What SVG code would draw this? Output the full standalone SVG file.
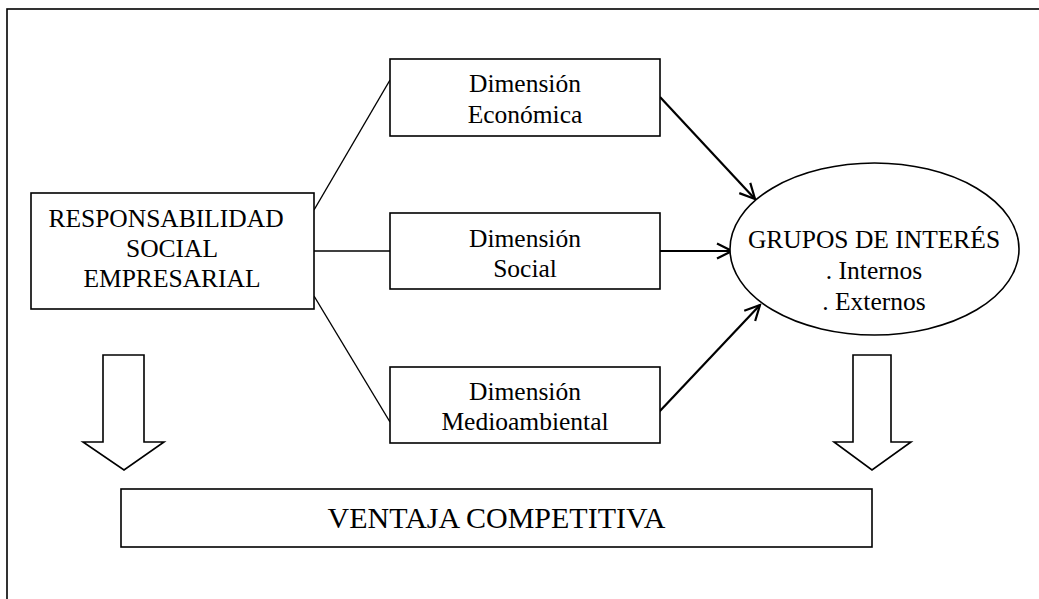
<svg xmlns="http://www.w3.org/2000/svg" width="1039" height="599" viewBox="0 0 1039 599">
<style>
.box{fill:#fff;stroke:#000;stroke-width:1.6}
.t{font-family:"Liberation Serif","Times New Roman",serif;fill:#000;text-anchor:middle}
.s26{font-size:25.5px}
.s30{font-size:30px}
.ln{stroke:#000;stroke-width:1.4;fill:none}
.ar{stroke:#000;stroke-width:2.2;fill:none}
</style>
<defs>
<marker id="v" viewBox="0 0 18 18" refX="16" refY="9" markerWidth="18" markerHeight="18" markerUnits="userSpaceOnUse" orient="auto">
<path d="M1,1.5 L16,9 L1,16.5" fill="none" stroke="#000" stroke-width="2.2"/>
</marker>
</defs>
<rect x="0" y="0" width="1039" height="599" fill="#fff"/>
<rect id="frame" x="7" y="9" width="1045" height="600" fill="none" stroke="#000" stroke-width="1.6"/>
<g id="connectors">
<line class="ln" x1="314" y1="210" x2="390" y2="80"/>
<line class="ln" x1="314" y1="251" x2="390" y2="251"/>
<line class="ln" x1="314" y1="296" x2="390" y2="422"/>
<line class="ar" x1="660" y1="97" x2="755" y2="199" marker-end="url(#v)"/>
<line class="ar" x1="658" y1="251" x2="732" y2="251" marker-end="url(#v)"/>
<line class="ar" x1="659" y1="412" x2="760" y2="305" marker-end="url(#v)"/>
<path id="blockL" class="box" d="M103,355 H144 V442 H164 L124,470 L83,442 H103 Z"/>
<path id="blockR" class="box" d="M853,355 H891 V442 H911 L872,470 L834,442 H853 Z"/>
</g>
<g id="rse">
<rect class="box" x="31" y="193" width="283" height="116"/>
<text class="t s26" x="166" y="227">RESPONSABILIDAD</text>
<text class="t s26" x="172" y="257">SOCIAL</text>
<text class="t s26" x="172" y="287">EMPRESARIAL</text>
</g>
<g id="economica">
<rect class="box" x="390" y="59" width="270" height="77"/>
<text class="t s26" x="525" y="92">Dimensión</text>
<text class="t s26" x="525" y="123">Económica</text>
</g>
<g id="social">
<rect class="box" x="390" y="213" width="270" height="76"/>
<text class="t s26" x="525" y="247">Dimensión</text>
<text class="t s26" x="525" y="277">Social</text>
</g>
<g id="medio">
<rect class="box" x="390" y="367" width="270" height="76"/>
<text class="t s26" x="525" y="400">Dimensión</text>
<text class="t s26" x="525" y="430">Medioambiental</text>
</g>
<g id="grupos">
<ellipse class="box" cx="874.5" cy="249" rx="144.5" ry="86"/>
<text class="t s26" x="874" y="248">GRUPOS DE INTERÉS</text>
<text class="t s26" x="874" y="279">. Internos</text>
<text class="t s26" x="874" y="310">. Externos</text>
</g>
<g id="ventaja">
<rect class="box" x="121" y="489" width="751" height="58"/>
<text class="t s30" x="496.5" y="528">VENTAJA COMPETITIVA</text>
</g>
</svg>
